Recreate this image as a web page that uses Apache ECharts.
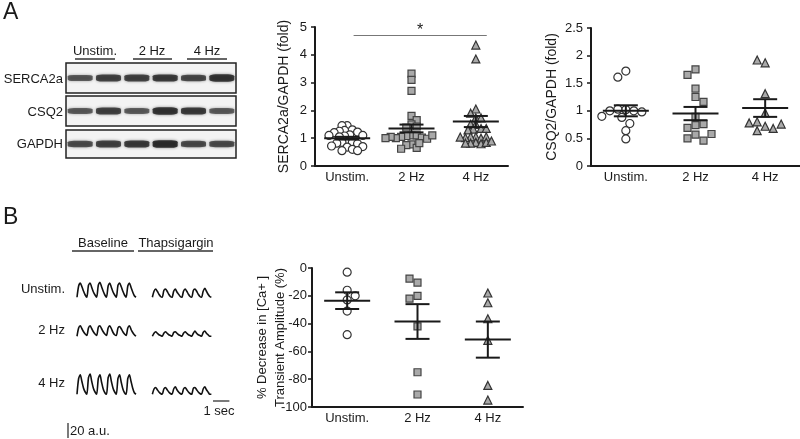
<!DOCTYPE html>
<html>
<head>
<meta charset="UTF-8" />
<title>SERCA2a / CSQ2 figure</title>
<script src="https://cdn.jsdelivr.net/npm/echarts@6/dist/echarts.min.js"></script>
<style>
  html, body { margin: 0; background: #fff; }
  #main { width: 800px; height: 439px; }
</style>
</head>
<body>
<div id="main"></div>
<script>
// ---- data ----
var groups = ["Unstim.", "2 Hz", "4 Hz"];
var lanes = ["U-1", "U-2", "2Hz-1", "2Hz-2", "4Hz-1", "4Hz-2"];
var blotRows = ["SERCA2a", "CSQ2", "GAPDH"];
var serca2aBands = [0.72, 0.85, 0.85, 0.9, 0.82, 0.95];
var csq2Bands = [0.7, 0.85, 0.7, 0.95, 0.9, 0.7];
var gapdhBands = [0.78, 0.85, 0.9, 1.0, 0.8, 0.8];

var sercaUnstim = [1.45, 1.45, 1.3, 1.28, 1.25, 1.22, 1.2, 1.12, 1.1, 1.1, 1.08, 1.05, 0.88, 0.85, 0.85, 0.82, 0.8, 0.72, 0.7, 0.68, 0.6, 0.55, 0.55];
var serca2Hz = [3.32, 3.1, 2.7, 1.8, 1.65, 1.5, 1.42, 1.38, 1.1, 1.08, 1.1, 1.05, 1.02, 1.0, 0.98, 1.05, 1.1, 1.0, 0.78, 0.75, 0.65, 0.62, 0.82];
var serca4Hz = [4.35, 3.85, 2.05, 1.9, 1.73, 1.73, 1.5, 1.5, 1.35, 1.33, 1.35, 1.3, 1.05, 1.05, 1.0, 1.02, 1.05, 1.04, 0.85, 0.82, 0.8, 0.82, 0.85, 0.9];
var sercaMean = [1.0, 1.35, 1.6];
var sercaSem = [0.05, 0.14, 0.2];

var csqUnstim = [1.72, 1.61, 1.02, 1.03, 1.0, 1.0, 0.98, 0.9, 0.88, 0.77, 0.64, 0.49];
var csq2Hz = [1.75, 1.65, 1.4, 1.25, 1.16, 0.89, 0.74, 0.69, 0.76, 0.57, 0.46, 0.5, 0.58];
var csq4Hz = [1.87, 1.92, 1.31, 0.96, 0.72, 0.8, 0.68, 0.78, 0.76, 0.64];
var csqMean = [1.0, 0.95, 1.05];
var csqSem = [0.1, 0.12, 0.16];

var caUnstim = [-3, -16, -20, -23, -31, -48];
var ca2Hz = [-10.5, -7.6, -20, -22, -42, -75, -91];
var ca4Hz = [-18, -25, -36.5, -52, -84.5, -95];
var caMean = [-23.5, -38.5, -51.5];
var caSem = [6, 12.5, 13];

// calcium transients (a.u.), sampled every 0.1 s
var traceRows = ["Unstim.", "2 Hz", "4 Hz"];
var unstimBaseline = [1, 16, 20, 15, 9, 4, 1, 17, 20, 14, 8, 4, 1, 17, 21, 15, 9, 4, 1, 16, 20, 14, 8, 4, 1, 17, 20, 15, 9, 4, 1, 16, 20, 14, 8, 3, 1];
var unstimThaps = [1, 9, 12, 9, 5, 2, 1, 10, 12, 9, 5, 2, 1, 9, 12, 8, 5, 2, 1, 9, 12, 9, 5, 2, 1, 10, 12, 9, 5, 2, 1, 9, 13, 9, 5, 2, 1];
var hz2Baseline = [1, 12, 15, 11, 7, 4, 2, 12, 15, 11, 7, 4, 2, 13, 15, 11, 7, 4, 2, 12, 15, 11, 6, 3, 2, 12, 14, 11, 7, 4, 2, 12, 15, 10, 6, 3, 1];
var hz2Thaps = [1, 5, 7, 5, 3, 2, 1, 5, 7, 5, 3, 2, 1, 6, 7, 5, 3, 2, 1, 5, 7, 5, 3, 2, 1, 5, 8, 5, 3, 2, 1, 6, 8, 5, 3, 1, 1];
var hz4Baseline = [1, 22, 27, 18, 9, 4, 1, 23, 28, 18, 9, 4, 1, 22, 27, 17, 8, 3, 1, 23, 28, 18, 9, 4, 1, 22, 27, 17, 8, 3, 1, 22, 27, 18, 9, 3, 1];
var hz4Thaps = [1, 8, 10, 7, 4, 2, 1, 8, 10, 7, 4, 2, 1, 8, 11, 7, 4, 2, 1, 8, 10, 7, 4, 2, 1, 9, 10, 7, 4, 2, 1, 8, 11, 7, 4, 1, 1];

// ---- layout ----
var FONT = "Liberation Sans";
var INK = "#1a1a1a";
var DT = 0.1, THAPS_START = 4.6, T_MAX = 8.3, TRACE_YMAX = 32;

var chart = echarts.init(document.getElementById("main"));
var grids = [], xAxes = [], yAxes = [], series = [];

function addGrid(g) { grids.push(g); return grids.length - 1; }

// spreads points sideways so symbols don't pile up (plain beeswarm)
function swarm(vals, pxX, pxY, d) {
  var placed = [];
  return vals.map(function (v, n) {
    var y = v * pxY, off = 0, step = d * 0.5, found = false;
    for (var k = 0; k < 60 && !found; k++) {
      var s = n % 2 ? -1 : 1;
      var cands = k === 0 ? [0] : [s * k * step, -s * k * step];
      for (var c = 0; c < cands.length; c++) {
        var good = placed.every(function (p) {
          var dx = p[0] - cands[c], dy = p[1] - y;
          return dx * dx + dy * dy >= d * d;
        });
        if (good) { off = cands[c]; found = true; break; }
      }
    }
    placed.push([off, y]);
    return off / pxX;
  });
}

function meanSem(xi, yi, means, sems) {
  return {
    type: "custom", xAxisIndex: xi, yAxisIndex: yi, z: 5, silent: true,
    data: means.map(function (m, i) { return [i + 0.5, m, sems[i]]; }),
    renderItem: function (params, api) {
      var c = api.coord([api.value(0), api.value(1)]);
      var t = api.coord([api.value(0), api.value(1) + api.value(2)]);
      var b = api.coord([api.value(0), api.value(1) - api.value(2)]);
      function ln(x1, y1, x2, y2) {
        return { type: "line", shape: { x1: x1, y1: y1, x2: x2, y2: y2 }, style: { stroke: INK, lineWidth: 2 } };
      }
      return { type: "group", children: [
        ln(c[0] - 23, c[1], c[0] + 23, c[1]),
        ln(c[0], t[1], c[0], b[1]),
        ln(c[0] - 12, t[1], c[0] + 12, t[1]),
        ln(c[0] - 12, b[1], c[0] + 12, b[1])
      ]};
    }
  };
}

var symbols = [
  { symbol: "circle", color: "#fff", border: "#333", size: 8 },
  { symbol: "rect", color: "#a9a9a9", border: "#444", size: 7 },
  { symbol: "triangle", color: "#a9a9a9", border: "#333", size: 8 }
];

function dotPlot(box, yMin, yMax, yInt, yName, opt, sets, means, sems) {
  var gi = addGrid(box);
  xAxes.push({
    type: "category", gridIndex: gi, data: groups, position: "bottom",
    axisLine: { onZero: false, lineStyle: { color: INK, width: 2 } },
    axisTick: { show: false },
    axisLabel: { color: INK, fontSize: 13, fontFamily: FONT, margin: 5 }
  });
  xAxes.push({ type: "value", gridIndex: gi, min: 0, max: 3, show: false });
  var xv = xAxes.length - 1;
  yAxes.push({
    type: "value", gridIndex: gi, min: yMin, max: yMax, interval: yInt,
    name: yName, nameLocation: "middle", nameGap: opt.nameGap, nameMoveOverlap: false,
    nameTextStyle: { color: INK, fontSize: opt.nameSize, fontFamily: FONT, lineHeight: 18 },
    axisLine: { show: true, lineStyle: { color: INK, width: 2 } },
    axisTick: { show: true, length: 4, lineStyle: { color: INK, width: 1.5 } },
    axisLabel: { color: INK, fontSize: 13, fontFamily: FONT, margin: opt.labelMargin },
    splitLine: { show: false }
  });
  var yi = yAxes.length - 1;
  var pxX = box.width / 3, pxY = box.height / (yMax - yMin);
  sets.forEach(function (vals, g) {
    var offs = swarm(vals, pxX, pxY, opt.spread);
    var s = symbols[g];
    series.push({
      type: "scatter", xAxisIndex: xv, yAxisIndex: yi, z: 3,
      symbol: s.symbol, symbolSize: s.size,
      itemStyle: { color: s.color, borderColor: s.border, borderWidth: 1.2, opacity: 1 },
      data: vals.map(function (v, i) { return [g + 0.5 + offs[i], v]; })
    });
  });
  series.push(meanSem(xv, yi, means, sems));
  return { xv: xv, yi: yi };
}

// western blot panels
var blotBoxes = [
  { left: 66, top: 63, width: 170, height: 30 },
  { left: 66, top: 96, width: 170, height: 30 },
  { left: 66, top: 130, width: 170, height: 28 }
];
[serca2aBands, csq2Bands, gapdhBands].forEach(function (bands, r) {
  var b = blotBoxes[r];
  var gi = addGrid({ left: b.left, top: b.top, width: b.width, height: b.height, show: true,
    backgroundColor: "#f3f3f3", borderColor: "#222", borderWidth: 1.5 });
  xAxes.push({ type: "category", gridIndex: gi, data: lanes, show: false });
  yAxes.push({ type: "value", gridIndex: gi, min: 0, max: 1, show: false });
  series.push({
    type: "scatter", xAxisIndex: xAxes.length - 1, yAxisIndex: yAxes.length - 1,
    symbol: "roundRect",
    symbolSize: function (d) { return [25, 3 + 4.5 * d[2]]; },
    itemStyle: {
      color: function (p) { return "rgba(18,18,18," + p.data[2] + ")"; },
      shadowBlur: 3, shadowColor: "rgba(0,0,0,0.6)"
    },
    data: bands.map(function (v, i) { return [i, 0.5, v]; })
  });
});

var serca = dotPlot({ left: 315, top: 27, width: 193, height: 139 }, 0, 5, 1, "SERCA2a/GAPDH (fold)",
  { nameGap: 22, nameSize: 14, labelMargin: 8, spread: 5.2 },
  [sercaUnstim, serca2Hz, serca4Hz], sercaMean, sercaSem);
// significance bar
series.push({
  type: "scatter", xAxisIndex: serca.xv, yAxisIndex: serca.yi, data: [], silent: true,
  markLine: {
    symbol: "none", silent: true,
    lineStyle: { color: "#777", width: 1, type: "solid" },
    label: { show: true, position: "middle", formatter: "*", color: INK, fontSize: 16, fontFamily: FONT, distance: -4 },
    data: [[{ coord: [0.6, 4.72] }, { coord: [2.67, 4.72] }]]
  }
});

dotPlot({ left: 591, top: 28, width: 209, height: 138 }, 0, 2.5, 0.5, "CSQ2/GAPDH (fold)",
  { nameGap: 30, nameSize: 14, labelMargin: 8, spread: 8 },
  [csqUnstim, csq2Hz, csq4Hz], csqMean, csqSem);

dotPlot({ left: 312, top: 268, width: 211, height: 139 }, -100, 0, 20, "% Decrease in [Ca+ ]\nTransient Amplitude (%)",
  { nameGap: 23, nameSize: 13, labelMargin: 5, spread: 8 },
  [caUnstim, ca2Hz, ca4Hz], caMean, caSem);

// calcium traces
var traceBoxes = [
  { left: 77, top: 274, width: 136, height: 24 },
  { left: 77, top: 313, width: 136, height: 24 },
  { left: 77, top: 371, width: 136, height: 24 }
];
[[unstimBaseline, unstimThaps], [hz2Baseline, hz2Thaps], [hz4Baseline, hz4Thaps]].forEach(function (pair, r) {
  var gi = addGrid(traceBoxes[r]);
  xAxes.push({ type: "value", gridIndex: gi, min: 0, max: T_MAX, show: false });
  yAxes.push({ type: "value", gridIndex: gi, min: 0, max: TRACE_YMAX, show: false });
  pair.forEach(function (vals, k) {
    var t0 = k === 0 ? 0 : THAPS_START;
    series.push({
      type: "line", xAxisIndex: xAxes.length - 1, yAxisIndex: yAxes.length - 1,
      showSymbol: false, smooth: 0.25, silent: true,
      lineStyle: { color: "#111", width: 1.6 },
      data: vals.map(function (v, i) { return [t0 + i * DT, v]; })
    });
  });
});

// scale bars from the trace scales
var secPx = traceBoxes[0].width / T_MAX;
var auPx = 20 * traceBoxes[0].height / TRACE_YMAX;

function txt(s, x, y, align, size) {
  return { type: "text", x: x, y: y, silent: true,
    style: { text: s, fill: INK, fontSize: size || 13, fontFamily: FONT, align: align || "center", verticalAlign: "middle" } };
}
function seg(x1, y1, x2, y2, w) {
  return { type: "line", silent: true, shape: { x1: x1, y1: y1, x2: x2, y2: y2 }, style: { stroke: "#333", lineWidth: w || 1.3 } };
}

var graphic = [
  txt("A", 3, 13, "left", 23),
  txt("B", 3, 218, "left", 23),
  txt("Unstim.", 95, 51), txt("2 Hz", 152, 51), txt("4 Hz", 207, 51),
  seg(75, 59, 115, 59), seg(133, 59, 172, 59), seg(187, 59, 227, 59),
  txt(blotRows[0], 63, 79, "right"), txt(blotRows[1], 63, 112, "right"), txt(blotRows[2], 63, 144, "right"),
  txt("Baseline", 103, 243), txt("Thapsigargin", 176, 243),
  seg(72, 251, 134, 251), seg(138, 251, 213, 251),
  txt(traceRows[0], 65, 289, "right"), txt(traceRows[1], 65, 330, "right"), txt(traceRows[2], 65, 383, "right"),
  seg(213, 401, 213 + secPx, 401), txt("1 sec", 219, 411),
  seg(68, 423, 68, 423 + auPx), txt("20 a.u.", 70, 431, "left")
];

chart.setOption({
  animation: false,
  backgroundColor: "#fff",
  grid: grids,
  xAxis: xAxes,
  yAxis: yAxes,
  series: series,
  graphic: graphic
});
</script>
</body>
</html>
